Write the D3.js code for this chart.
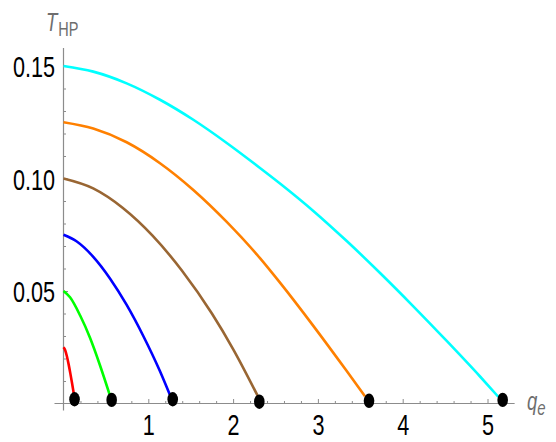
<!DOCTYPE html>
<html>
<head>
<meta charset="utf-8">
<script src="https://cdn.jsdelivr.net/npm/d3@7"></script>
<style>
  body { margin: 0; background: #fff; }
  svg { display: block; }
  text { font-family: "Liberation Sans", Arial, sans-serif; }
</style>
</head>
<body>
<svg id="chart" width="556" height="442"></svg>
<script>
// curves: q_e vs T_HP
const redQ = [0, 0.02, 0.04, 0.06, 0.08, 0.10, 0.124];
const redT = [0.025, 0.0237, 0.021, 0.0175, 0.0135, 0.0092, 0.0038];

const greenQ = [0, 0.077, 0.195, 0.3125, 0.43, 0.548];
const greenT = [0.05, 0.0472, 0.0392, 0.0292, 0.017, 0.0035];

const blueQ = [0, 0.157, 0.351, 0.548, 0.745, 0.941, 1.138, 1.27];
const blueT = [0.075, 0.0720, 0.0652, 0.0556, 0.0438, 0.0300, 0.0143, 0.0024];

const brownQ = [0, 0.35, 0.70, 1.05, 1.40, 1.75, 2.00, 2.29];
const brownT = [0.1, 0.0956, 0.0869, 0.0746, 0.0589, 0.0400, 0.0242, 0.0034];

const orangeQ = [0, 0.351, 0.745, 1.138, 1.531, 1.925, 2.317, 2.553, 2.946, 3.34, 3.555];
const orangeT = [0.125, 0.1222, 0.1161, 0.1068, 0.0949, 0.0807, 0.0646, 0.0537, 0.0345, 0.0144, 0.0032];

const cyanQ = [0, 0.351, 0.745, 1.138, 1.531, 1.925, 2.317, 2.553, 2.946, 3.340, 3.733, 4.125, 4.519, 4.912, 5.127];
const cyanT = [0.15, 0.1475, 0.1423, 0.1350, 0.1261, 0.1158, 0.1047, 0.0978, 0.0856, 0.0722, 0.0580, 0.0432, 0.0278, 0.0120, 0.0030];

// end points (black dots)
const dotQ = [0.13, 0.568, 1.288, 2.309, 3.603, 5.179];
const dotT = [0.0019, 0.0016, 0.0019, 0.0008, 0.0012, 0.0016];

const xTicks = [1, 2, 3, 4, 5];
const yTicks = [0.05, 0.10, 0.15];

const series = [
  { q: redQ, t: redT, color: '#ff0000' },
  { q: greenQ, t: greenT, color: '#00ff00' },
  { q: blueQ, t: blueT, color: '#0000ff' },
  { q: brownQ, t: brownT, color: '#996633' },
  { q: orangeQ, t: orangeT, color: '#ff8000' },
  { q: cyanQ, t: cyanT, color: '#00ffff' }
];

const svg = d3.select('#chart');
const axisColor = '#8c8c8c';
const stretch = 1.35;  // picture is stretched vertically

const x = d3.scaleLinear().domain([0, 5.32]).range([63.5, 63.5 + 5.32 * 84.8]);
const y = d3.scaleLinear().domain([0, 0.158]).range([403.5, 403.5 - 0.158 * 2250]);

// minor ticks
const xMinor = d3.range(0.2, 5.3, 0.2).filter(v => Math.abs(v - Math.round(v)) > 1e-6);
const yMinor = d3.range(0.01, 0.158, 0.01).filter(v => Math.abs(v * 20 - Math.round(v * 20)) > 1e-6);

const gx = svg.append('g').attr('transform', `translate(0,${y(0)})`);
gx.call(d3.axisBottom(x).tickValues(xMinor).tickSizeInner(-2.5).tickSizeOuter(0).tickFormat(''));
gx.call(g => g.select('.domain').remove());
const gxMajor = svg.append('g').attr('transform', `translate(0,${y(0)})`);
gxMajor.call(d3.axisBottom(x).tickValues(xTicks).tickSizeInner(-4.5).tickSizeOuter(0).tickFormat(d3.format('d')));
gxMajor.call(g => g.select('.domain').remove());
gxMajor.selectAll('.tick text')
  .attr('y', 0).attr('dy', null)
  .attr('font-size', 21.6).attr('fill', '#000')
  .attr('transform', `translate(0,31.5) scale(1,${stretch})`);

const gy = svg.append('g').attr('transform', `translate(${x(0)},0)`);
gy.call(d3.axisLeft(y).tickValues(yMinor).tickSizeInner(-2.5).tickSizeOuter(0).tickFormat(''));
gy.call(g => g.select('.domain').remove());
const gyMajor = svg.append('g').attr('transform', `translate(${x(0)},0)`);
gyMajor.call(d3.axisLeft(y).tickValues(yTicks).tickSizeInner(-4.5).tickSizeOuter(0).tickFormat(d3.format('.2f')));
gyMajor.call(g => g.select('.domain').remove());
gyMajor.selectAll('.tick text')
  .attr('x', 0).attr('dy', null)
  .attr('font-size', 21.6).attr('fill', '#000')
  .attr('transform', `translate(-8.5,10.5) scale(1,${stretch})`);

svg.selectAll('.tick line').attr('stroke', axisColor).attr('stroke-width', 1);

// axis lines
svg.append('line')
  .attr('x1', x(0) - 9).attr('x2', x(5.32))
  .attr('y1', y(0)).attr('y2', y(0))
  .attr('stroke', axisColor).attr('stroke-width', 1.2);
svg.append('line')
  .attr('x1', x(0)).attr('x2', x(0))
  .attr('y1', y(0) + 7).attr('y2', y(0.158))
  .attr('stroke', axisColor).attr('stroke-width', 1.2);

// curves
const line = d3.line().x(d => x(d[0])).y(d => y(d[1])).curve(d3.curveMonotoneX);
svg.append('g').selectAll('path')
  .data(series)
  .join('path')
  .attr('d', s => line(s.q.map((v, i) => [v, s.t[i]])))
  .attr('fill', 'none')
  .attr('stroke', s => s.color)
  .attr('stroke-width', 2.6);

// end dots
svg.append('g').selectAll('ellipse')
  .data(dotQ.map((v, i) => [v, dotT[i]]))
  .join('ellipse')
  .attr('cx', d => x(d[0]))
  .attr('cy', d => y(d[1]))
  .attr('rx', 5.3)
  .attr('ry', 7.2)
  .attr('fill', '#000');

// axis labels
const yLab = svg.append('text')
  .attr('transform', `translate(46,31) scale(1,${stretch})`)
  .attr('fill', '#6e6e6e');
yLab.append('tspan').attr('font-size', 18.6).attr('font-style', 'italic').text('T');
yLab.append('tspan').attr('font-size', 14.5).attr('dx', 1).attr('dy', 3.7).text('HP');

const xLab = svg.append('text')
  .attr('transform', `translate(527,410) scale(1,${stretch})`)
  .attr('fill', '#6e6e6e')
  .attr('font-style', 'italic');
xLab.append('tspan').attr('font-size', 18.5).text('q');
xLab.append('tspan').attr('font-size', 15).attr('dy', 3.5).text('e');
</script>
</body>
</html>
